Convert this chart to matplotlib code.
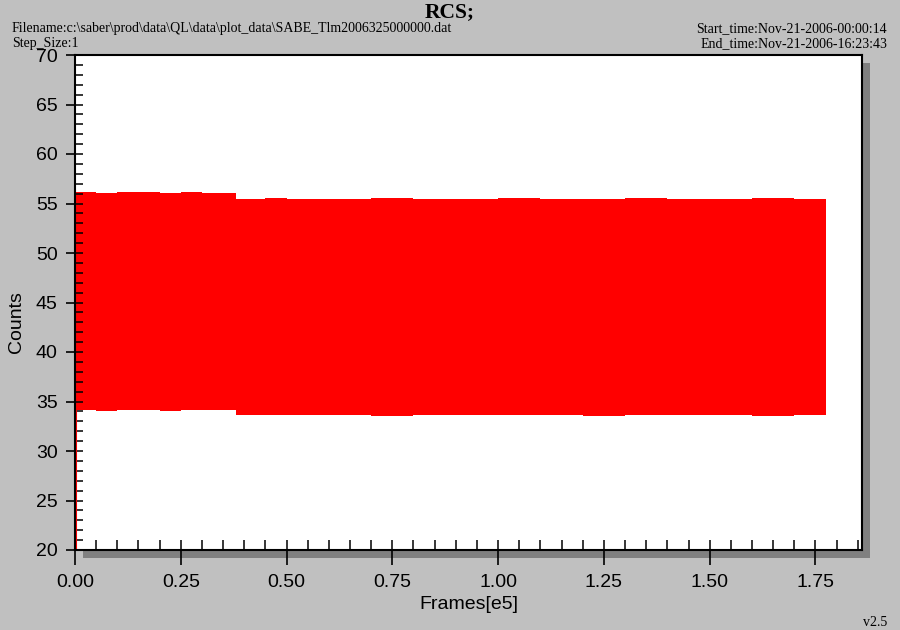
import numpy as np
import matplotlib.pyplot as plt
from matplotlib.patches import Rectangle
from matplotlib.ticker import MultipleLocator, FormatStrFormatter

# envelope of the RCS counts (frames in units of 1e5)
frame_edges = [0.00, 0.05, 0.10, 0.15, 0.20, 0.25, 0.30, 0.38, 0.45, 0.50,
               0.60, 0.70, 0.80, 0.90, 1.00, 1.10, 1.20, 1.30, 1.40, 1.50,
               1.60, 1.70, 1.776]
counts_max = [56.2, 56.1, 56.2, 56.2, 56.1, 56.2, 56.1, 55.5, 55.6, 55.5,
              55.5, 55.6, 55.5, 55.5, 55.6, 55.5, 55.5, 55.6, 55.5, 55.5,
              55.6, 55.5]
counts_min = [34.1, 34.0, 34.1, 34.1, 34.0, 34.1, 34.1, 33.6, 33.6, 33.6,
              33.6, 33.5, 33.6, 33.6, 33.6, 33.6, 33.5, 33.6, 33.6, 33.6,
              33.5, 33.6]
first_frame = [0.002, 0.002]
first_counts = [19.5, 34.5]

title = 'RCS;'
filename = 'Filename:c:\\saber\\prod\\data\\QL\\data\\plot_data\\SABE_Tlm2006325000000.dat'
step_size = 'Step_Size:1'
start_time = 'Start_time:Nov-21-2006-00:00:14'
end_time = 'End_time:Nov-21-2006-16:23:43'

W, H = 900, 630
fig = plt.figure(figsize=(9, 6.3), dpi=100)
fig.patch.set_facecolor('#c0c0c0')

l, r, t, b = 75, 862, 55, 550
ax = fig.add_axes([l / W, 1 - b / H, (r - l) / W, (b - t) / H])

# drop shadow behind the plot box
sh = 8
fig.patches.append(Rectangle(((l + sh) / W, 1 - (b + sh) / H), (r - l) / W, (b - t) / H,
                             transform=fig.transFigure, facecolor='#808080',
                             edgecolor='none', zorder=-1))

upper = counts_max + [counts_max[-1]]
lower = counts_min + [counts_min[-1]]
ax.fill_between(frame_edges, lower, upper, step='post', color='#ff0000', linewidth=0)
ax.plot(first_frame, first_counts, color='#ff0000', lw=1.5)

ax.set_xlim(0, 1.86)
ax.set_ylim(20, 70)
for s in ax.spines.values():
    s.set_linewidth(1.5)

ax.xaxis.set_major_locator(MultipleLocator(0.25))
ax.xaxis.set_minor_locator(MultipleLocator(0.05))
ax.xaxis.set_major_formatter(FormatStrFormatter('%.2f'))
ax.yaxis.set_major_locator(MultipleLocator(5))
ax.yaxis.set_minor_locator(MultipleLocator(1))
ax.xaxis.remove_overlapping_locs = False
ax.yaxis.remove_overlapping_locs = False

ax.tick_params(axis='x', which='major', direction='out', length=11, width=1.2, pad=6)
ax.tick_params(axis='x', which='minor', direction='in', length=7, width=1.1)
ax.tick_params(axis='y', which='major', direction='out', length=6.5, width=1.2, pad=6)
ax.tick_params(axis='y', which='minor', direction='in', length=6, width=1.1)
for lab in ax.get_xticklabels() + ax.get_yticklabels():
    lab.set_fontfamily('Liberation Sans')
    lab.set_fontsize(14)

ax.set_xlabel('Frames[e5]', family='Liberation Sans', fontsize=14)
ax.xaxis.set_label_coords(0.5, -0.093)
ax.set_ylabel('Counts', family='Liberation Sans', fontsize=14)
ax.yaxis.set_label_coords(-0.064, 0.46)

fig.text(450 / W, 1 - 12 / H, title, family='Liberation Serif', weight='bold',
         fontsize=15.5, ha='center', va='center')
fig.text(12 / W, 1 - 32 / H, filename, family='Liberation Serif', fontsize=10, ha='left', va='baseline')
fig.text(12 / W, 1 - 47 / H, step_size, family='Liberation Serif', fontsize=10, ha='left', va='baseline')
fig.text(887 / W, 1 - 32 / H, start_time, family='Liberation Serif', fontsize=10, ha='right', va='baseline')
fig.text(887 / W, 1 - 47 / H, end_time, family='Liberation Serif', fontsize=10, ha='right', va='baseline')
fig.text(887 / W, 1 - 626 / H, 'v2.5', family='Liberation Serif', fontsize=10, ha='right', va='baseline')

fig.savefig('out.png', dpi=100, facecolor=fig.get_facecolor())
